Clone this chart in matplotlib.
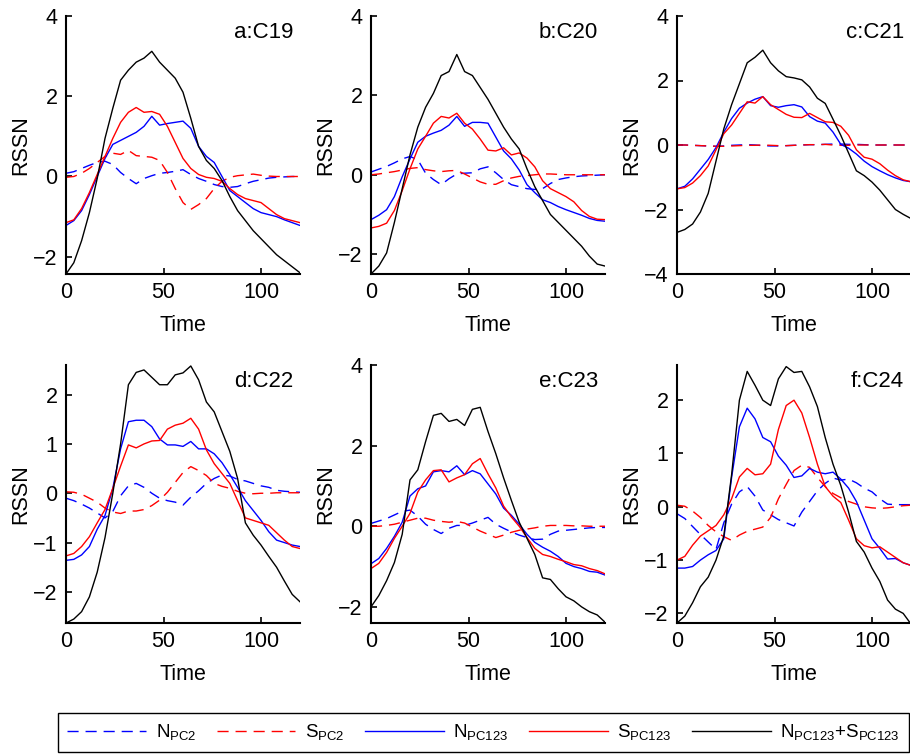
import numpy as np
import matplotlib
matplotlib.use("Agg")
import matplotlib.pyplot as plt

plt.rcParams["font.family"] = ["Liberation Sans", "DejaVu Sans"]
plt.rcParams["mathtext.fontset"] = "custom"
plt.rcParams["mathtext.rm"] = "Liberation Sans"

# sample times (read every 4 steps)
time = np.arange(0, 121, 4)

# panel a: C19
a_npc2 = [0.08, 0.12, 0.2, 0.28, 0.35, 0.38, 0.3, 0.1, -0.05, -0.18, -0.05, 0.02, 0.08, 0.1, 0.13, 0.17,
          0.05, -0.05, -0.12, -0.2, -0.25, -0.27, -0.25, -0.18, -0.12, -0.08, -0.04, -0.02, -0.01, 0.0, 0.0]
a_spc2 = [-0.02, 0.0, 0.08, 0.2, 0.35, 0.5, 0.58, 0.55, 0.65, 0.52, 0.5, 0.48, 0.4, 0.1, -0.3, -0.65,
          -0.82, -0.7, -0.55, -0.3, -0.12, -0.02, 0.02, 0.04, 0.06, 0.03, 0.01, 0.0, 0.0, 0.0, 0.0]
a_npc123 = [-1.22, -1.1, -0.85, -0.45, 0.0, 0.45, 0.8, 0.9, 1.0, 1.1, 1.25, 1.5, 1.28, 1.32, 1.35, 1.38,
            1.2, 0.75, 0.5, 0.35, 0.0, -0.35, -0.5, -0.65, -0.8, -0.9, -0.95, -1.0, -1.08, -1.15, -1.22]
a_spc123 = [-1.15, -1.08, -0.8, -0.4, 0.05, 0.5, 0.95, 1.35, 1.6, 1.72, 1.6, 1.62, 1.55, 1.25, 0.85, 0.45,
            0.2, 0.05, -0.02, -0.05, -0.12, -0.3, -0.45, -0.55, -0.6, -0.65, -0.8, -0.95, -1.05, -1.1, -1.15]
a_sum = [-2.43, -2.15, -1.6, -0.9, -0.05, 0.95, 1.7, 2.4, 2.65, 2.85, 2.95, 3.12, 2.85, 2.65, 2.45, 2.1,
         1.45, 0.75, 0.4, 0.2, -0.1, -0.5, -0.85, -1.1, -1.35, -1.55, -1.75, -1.95, -2.1, -2.25, -2.4]

# panel b: C20
b_npc2 = [0.07, 0.14, 0.21, 0.3, 0.4, 0.46, 0.38, 0.04, -0.12, -0.25, -0.1, 0.02, 0.04, 0.05, 0.15, 0.2,
          0.05, -0.12, -0.25, -0.3, -0.35, -0.37, -0.35, -0.22, -0.12, -0.08, -0.05, -0.03, -0.02, -0.01, 0.0]
b_spc2 = [0.0, 0.02, 0.05, 0.08, 0.12, 0.16, 0.18, 0.13, 0.1, 0.08, 0.1, 0.11, 0.02, -0.08, -0.18, -0.24,
          -0.24, -0.15, -0.08, -0.04, -0.02, 0.0, 0.02, 0.02, 0.01, 0.0, 0.0, 0.0, 0.0, 0.0, 0.0]
b_npc123 = [-1.13, -1.02, -0.88, -0.55, -0.05, 0.4, 0.82, 0.97, 1.05, 1.12, 1.25, 1.47, 1.22, 1.32, 1.32, 1.3,
            0.95, 0.6, 0.4, 0.12, -0.25, -0.45, -0.63, -0.7, -0.8, -0.88, -0.95, -1.02, -1.1, -1.15, -1.17]
b_spc123 = [-1.34, -1.3, -1.22, -0.9, -0.4, 0.15, 0.65, 0.97, 1.3, 1.47, 1.43, 1.55, 1.3, 1.15, 0.9, 0.62,
            0.6, 0.68, 0.5, 0.55, 0.42, 0.2, -0.15, -0.35, -0.45, -0.55, -0.68, -0.9, -1.05, -1.12, -1.13]
b_sum = [-2.5, -2.3, -1.97, -1.2, -0.35, 0.5, 1.2, 1.7, 2.05, 2.5, 2.6, 3.03, 2.6, 2.5, 2.2, 1.9,
         1.55, 1.2, 0.9, 0.65, 0.15, -0.3, -0.65, -1.0, -1.2, -1.4, -1.6, -1.8, -2.05, -2.25, -2.3]

# panel c: C21
c_npc2 = [0.0, 0.0, -0.01, -0.02, -0.03, -0.04, -0.03, -0.01, 0.0, 0.01, 0.0, -0.02, -0.03, -0.03, -0.02, -0.01,
          0.0, 0.01, 0.01, 0.02, 0.03, 0.03, 0.02, 0.02, 0.01, 0.0, 0.0, 0.0, 0.0, 0.0, 0.0]
c_spc2 = [0.0, 0.0, -0.01, -0.02, -0.03, -0.04, -0.04, -0.03, -0.02, -0.01, -0.01, 0.0, -0.01, -0.02, -0.02, -0.01,
          0.0, 0.01, 0.01, 0.02, 0.0, -0.01, -0.01, 0.0, 0.0, 0.0, 0.0, 0.0, 0.0, 0.0, 0.0]
c_npc123 = [-1.36, -1.28, -1.05, -0.75, -0.45, -0.08, 0.4, 0.82, 1.14, 1.3, 1.42, 1.5, 1.22, 1.17, 1.22, 1.25,
            1.18, 0.88, 0.74, 0.68, 0.4, 0.02, -0.1, -0.28, -0.5, -0.67, -0.8, -0.92, -1.02, -1.1, -1.14]
c_spc123 = [-1.36, -1.32, -1.18, -0.95, -0.65, -0.15, 0.35, 0.62, 0.98, 1.34, 1.3, 1.5, 1.25, 1.1, 0.95, 0.86,
            0.85, 0.98, 0.85, 0.72, 0.7, 0.58, 0.3, -0.15, -0.38, -0.44, -0.58, -0.78, -0.95, -1.08, -1.14]
c_sum = [-2.71, -2.62, -2.45, -2.08, -1.5, -0.5, 0.5, 1.25, 1.9, 2.55, 2.72, 2.94, 2.55, 2.3, 2.12, 2.08,
         2.02, 1.8, 1.45, 1.29, 0.8, 0.3, -0.25, -0.8, -0.95, -1.15, -1.4, -1.7, -2.0, -2.15, -2.28]

# panel d: C22
d_npc2 = [-0.1, -0.15, -0.22, -0.3, -0.4, -0.5, -0.37, -0.05, 0.15, 0.2, 0.12, 0.0, -0.1, -0.15, -0.18, -0.24,
          -0.08, 0.05, 0.2, 0.3, 0.37, 0.35, 0.28, 0.25, 0.2, 0.15, 0.12, 0.06, 0.04, 0.03, 0.02]
d_spc2 = [0.03, 0.02, -0.02, -0.1, -0.18, -0.3, -0.38, -0.41, -0.36, -0.36, -0.33, -0.25, -0.14, 0.02, 0.22, 0.42,
          0.54, 0.46, 0.36, 0.2, 0.14, 0.1, 0.04, 0.0, -0.01, 0.0, 0.0, 0.01, 0.01, 0.01, 0.01]
d_npc123 = [-1.36, -1.34, -1.25, -1.08, -0.73, -0.45, 0.1, 0.9, 1.45, 1.48, 1.48, 1.35, 1.1, 0.98, 0.98, 0.95,
            1.05, 0.9, 0.9, 0.8, 0.62, 0.38, 0.12, -0.15, -0.35, -0.55, -0.78, -0.95, -1.0, -1.05, -1.08]
d_spc123 = [-1.27, -1.22, -1.08, -0.88, -0.6, -0.33, 0.1, 0.55, 0.98, 0.92, 1.0, 1.06, 1.07, 1.3, 1.38, 1.42,
            1.52, 1.3, 0.88, 0.6, 0.4, 0.2, -0.15, -0.5, -0.55, -0.6, -0.65, -0.8, -0.95, -1.08, -1.12]
d_sum = [-2.63, -2.55, -2.4, -2.1, -1.6, -0.9, 0.0, 1.0, 2.2, 2.45, 2.5, 2.35, 2.2, 2.2, 2.4, 2.44,
         2.58, 2.3, 1.85, 1.65, 1.25, 0.85, 0.3, -0.6, -0.85, -1.05, -1.28, -1.5, -1.78, -2.05, -2.2]

# panel e: C23
e_npc2 = [0.07, 0.13, 0.19, 0.28, 0.37, 0.4, 0.25, 0.05, -0.08, -0.18, -0.05, 0.02, 0.02, 0.08, 0.15, 0.22,
          0.05, -0.05, -0.14, -0.22, -0.28, -0.33, -0.32, -0.2, -0.12, -0.1, -0.08, -0.06, -0.04, -0.03, -0.03]
e_spc2 = [0.0, 0.0, 0.02, 0.05, 0.1, 0.15, 0.2, 0.2, 0.15, 0.12, 0.1, 0.12, 0.08, -0.02, -0.12, -0.2,
          -0.28, -0.22, -0.15, -0.1, -0.07, -0.04, 0.0, 0.02, 0.02, 0.02, 0.01, 0.01, 0.0, 0.0, 0.0]
e_npc123 = [-0.93, -0.8, -0.55, -0.25, 0.1, 0.75, 0.93, 1.0, 1.35, 1.38, 1.35, 1.5, 1.28, 1.38, 1.3, 1.05,
            0.8, 0.45, 0.27, 0.05, -0.2, -0.4, -0.52, -0.62, -0.75, -0.92, -1.0, -1.05, -1.12, -1.14, -1.21]
e_spc123 = [-1.05, -0.92, -0.65, -0.3, 0.0, 0.32, 0.85, 1.15, 1.38, 1.4, 1.1, 1.2, 1.28, 1.55, 1.68, 1.3,
            0.95, 0.5, 0.23, 0.0, -0.28, -0.55, -0.7, -0.75, -0.82, -0.88, -0.95, -0.98, -1.05, -1.1, -1.18]
e_sum = [-2.0, -1.72, -1.35, -0.9, -0.2, 1.15, 1.4, 2.1, 2.75, 2.8, 2.6, 2.65, 2.5, 2.9, 2.95, 2.35,
         1.8, 1.2, 0.64, 0.1, -0.3, -0.7, -1.28, -1.32, -1.55, -1.75, -1.85, -2.0, -2.12, -2.2, -2.38]

# panel f: C24
f_npc2 = [-0.13, -0.22, -0.37, -0.52, -0.66, -0.8, -0.3, 0.05, 0.28, 0.38, 0.2, -0.06, -0.15, -0.24, -0.3, -0.36,
          -0.1, 0.1, 0.3, 0.44, 0.54, 0.5, 0.52, 0.45, 0.35, 0.28, 0.15, 0.05, 0.04, 0.04, 0.04]
f_spc2 = [0.03, 0.01, -0.08, -0.2, -0.35, -0.47, -0.56, -0.63, -0.53, -0.46, -0.42, -0.38, -0.2, 0.15, 0.42, 0.68,
          0.78, 0.74, 0.55, 0.38, 0.25, 0.17, 0.1, 0.05, 0.0, -0.02, -0.03, -0.02, 0.0, 0.02, 0.03]
f_npc123 = [-1.15, -1.15, -1.12, -1.0, -0.9, -0.82, -0.6, 0.55, 1.5, 1.85, 1.65, 1.3, 1.22, 0.95, 0.78, 0.55,
            0.58, 0.72, 0.65, 0.62, 0.65, 0.52, 0.35, 0.1, -0.25, -0.6, -0.78, -0.98, -0.97, -1.05, -1.1]
f_spc123 = [-1.0, -0.93, -0.72, -0.55, -0.45, -0.35, -0.15, 0.15, 0.56, 0.72, 0.6, 0.62, 0.8, 1.45, 1.9, 2.0,
            1.76, 1.3, 0.8, 0.38, 0.2, 0.08, -0.25, -0.6, -0.73, -0.77, -0.75, -0.85, -0.95, -1.05, -1.1]
f_sum = [-2.18, -2.05, -1.8, -1.5, -1.32, -1.0, -0.55, 0.6, 2.0, 2.54, 2.28, 2.0, 1.9, 2.4, 2.63, 2.52,
         2.54, 2.25, 1.88, 1.3, 0.8, 0.4, -0.1, -0.65, -0.85, -1.15, -1.4, -1.75, -1.92, -2.0, -2.2]

panel_names = ["a:C19", "b:C20", "c:C21", "d:C22", "e:C23", "f:C24"]
panel_data = [
    (a_npc2, a_spc2, a_npc123, a_spc123, a_sum),
    (b_npc2, b_spc2, b_npc123, b_spc123, b_sum),
    (c_npc2, c_spc2, c_npc123, c_spc123, c_sum),
    (d_npc2, d_spc2, d_npc123, d_spc123, d_sum),
    (e_npc2, e_spc2, e_npc123, e_spc123, e_sum),
    (f_npc2, f_spc2, f_npc123, f_spc123, f_sum),
]
ylims = [(-2.43, 4), (-2.5, 4), (-4, 4), (-2.63, 2.6), (-2.4, 4), (-2.18, 2.66)]
yticks = [[-2, 0, 2, 4], [-2, 0, 2, 4], [-4, -2, 0, 2, 4],
          [-2, -1, 0, 1, 2], [-2, 0, 2, 4], [-2, -1, 0, 1, 2]]

legend_labels = [r"N$_{\mathrm{PC2}}$", r"S$_{\mathrm{PC2}}$", r"N$_{\mathrm{PC123}}$",
                 r"S$_{\mathrm{PC123}}$", r"N$_{\mathrm{PC123}}$+S$_{\mathrm{PC123}}$"]
colors = ["blue", "red", "blue", "red", "black"]
styles = [(0, (8, 5)), (0, (8, 5)), "-", "-", "-"]

W, H = 910, 754
fig = plt.figure(figsize=(W / 100, H / 100), dpi=100)

lefts = [66, 371, 677]
tops = [16, 365]
ax_w, ax_h = 234, 258

lines = []
for i, name in enumerate(panel_names):
    row, col = divmod(i, 3)
    l, t = lefts[col], tops[row]
    ax = fig.add_axes([l / W, 1 - (t + ax_h) / H, ax_w / W, ax_h / H])
    lines = []
    for series, c, ls in zip(panel_data[i], colors, styles):
        ln, = ax.plot(time, series, color=c, linestyle=ls, linewidth=1.0)
        lines.append(ln)
    ax.set_xlim(0, 120)
    ax.set_ylim(*ylims[i])
    ax.set_xticks([0, 50, 100])
    ax.set_yticks(yticks[i])
    for side in ["top", "right"]:
        ax.spines[side].set_visible(False)
    for side in ["left", "bottom"]:
        ax.spines[side].set_linewidth(1.5)
    ax.tick_params(direction="in", length=4, width=1.2, labelsize=15.5, pad=6)
    ax.set_xlabel("Time", fontsize=15.5)
    ax.set_ylabel("RSSN", fontsize=15.5)
    ax.xaxis.set_label_coords(0.5, -0.16)
    ax.yaxis.set_label_coords(-0.15, 0.5)
    ax.text(0.97, 0.935, name, transform=ax.transAxes, ha="right", va="center", fontsize=16)

leg = fig.legend(lines, legend_labels, loc="lower left",
                 bbox_to_anchor=(58 / W, 2 / H),
                 ncol=5, fontsize=13.5, handlelength=4.2, handletextpad=0.5,
                 columnspacing=1.1, borderaxespad=0, borderpad=0.5,
                 fancybox=False, framealpha=1)
leg.get_frame().set_edgecolor("black")
leg.get_frame().set_linewidth(1.0)

fig.savefig("out.png", dpi=100)
